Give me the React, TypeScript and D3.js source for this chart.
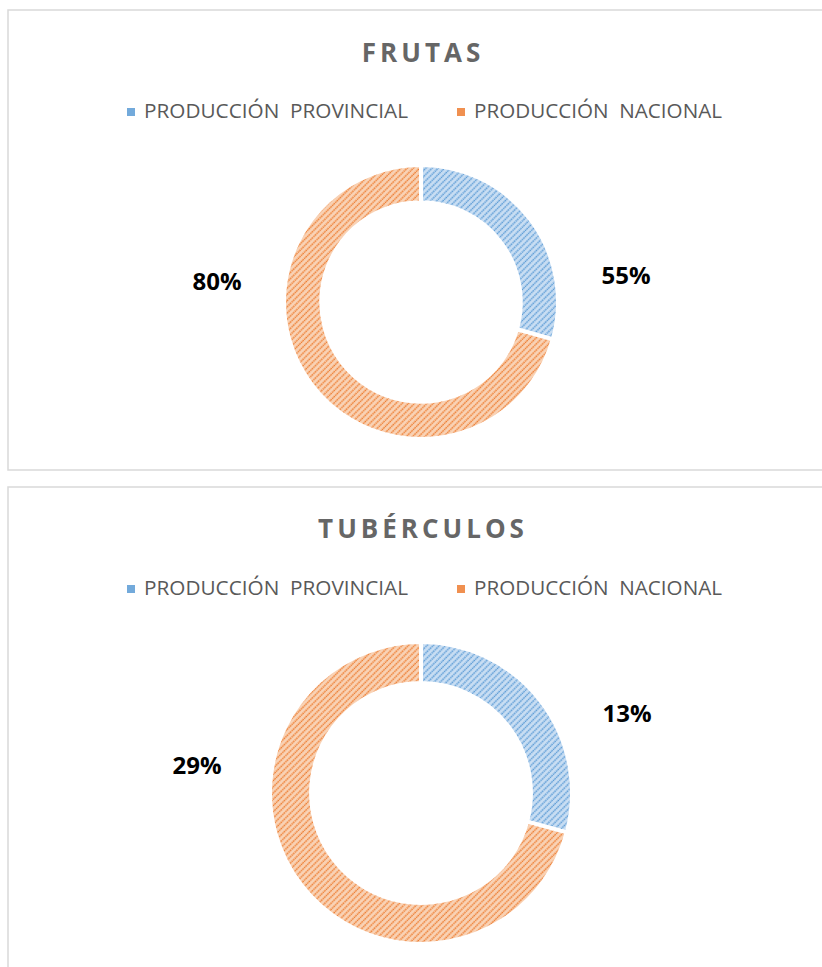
import React from "react";
import * as d3 from "d3";

const seriesNames = ["PRODUCCIÓN  PROVINCIAL", "PRODUCCIÓN  NACIONAL"];
const chartTitles = ["FRUTAS", "TUBÉRCULOS"];
// slice sizes as they appear in the picture (share of the ring)
const frutasSlices = [29.4, 70.6];
const tuberculosSlices = [29.2, 70.8];
// data labels shown on the chart
const frutasLabels = ["55%", "80%"];
const tuberculosLabels = ["13%", "29%"];

const W = 822;
const H = 967;

const colors = [
  { bg: "#c9def3", line: "#5b9bd5" },
  { bg: "#f9d3b6", line: "#ed7d31" },
];

type PanelProps = {
  top: number;
  height: number;
  title: string;
  titleBaseline: number;
  legendBaseline: number;
  cy: number;
  outerR: number;
  slices: number[];
  labels: string[];
  labelPos: { x: number; y: number }[];
};

function Panel(p: PanelProps) {
  const cx = 421;
  const pie = d3.pie<number>().sort(null).value((d) => d).startAngle(0).endAngle(2 * Math.PI);
  const arcs = pie(p.slices);
  const arc = d3.arc<d3.PieArcDatum<number>>().innerRadius(p.outerR * 0.728).outerRadius(p.outerR);
  const titleSpacing = 4;
  return (
    <g>
      <rect x={8} y={p.top} width={830} height={p.height} fill="#fff" stroke="#d9d9d9" strokeWidth={1.5} />
      <text
        x={cx + titleSpacing / 2}
        y={p.titleBaseline}
        textAnchor="middle"
        fontFamily="'Open Sans', sans-serif"
        fontWeight={700}
        fontSize={26}
        fill="#666666"
        style={{ letterSpacing: `${titleSpacing}px` }}
      >
        {p.title}
      </text>
      <rect x={127} y={p.legendBaseline - 10} width={8} height={8} fill={colors[0].line} opacity={0.85} />
      <text x={144} y={p.legendBaseline} fontFamily="'Open Sans', sans-serif" fontSize={19.5} fill="#595959" textLength={264} lengthAdjust="spacingAndGlyphs" style={{ whiteSpace: "pre" }}>
        {seriesNames[0]}
      </text>
      <rect x={457} y={p.legendBaseline - 10} width={8} height={8} fill={colors[1].line} opacity={0.85} />
      <text x={474} y={p.legendBaseline} fontFamily="'Open Sans', sans-serif" fontSize={19.5} fill="#595959" textLength={248} lengthAdjust="spacingAndGlyphs" style={{ whiteSpace: "pre" }}>
        {seriesNames[1]}
      </text>
      <g transform={`translate(${cx},${p.cy})`}>
        {arcs.map((a, i) => (
          <path key={i} d={arc(a) || ""} fill={`url(#pat${i})`} stroke="#fff" strokeWidth={4} />
        ))}
      </g>
      {p.labels.map((l, i) => (
        <text
          key={i}
          x={p.labelPos[i].x}
          y={p.labelPos[i].y}
          textAnchor="middle"
          fontFamily="'Open Sans', sans-serif"
          fontWeight={700}
          fontSize={24}
          fill="#000"
        >
          {l}
        </text>
      ))}
    </g>
  );
}

export default function App() {
  return (
    <svg width={W} height={H} style={{ position: "absolute", left: 0, top: 0, background: "#fff" }}>
      <defs>
        {colors.map((c, i) => (
          <pattern key={i} id={`pat${i}`} patternUnits="userSpaceOnUse" width={4.4} height={4.4} patternTransform="rotate(45)">
            <rect x={0} y={0} width={4.4} height={4.4} fill={c.bg} />
            <line x1={1.2} y1={0} x2={1.2} y2={4.4} stroke={c.line} strokeWidth={1.5} strokeDasharray="1.6 0.6" />
          </pattern>
        ))}
      </defs>
      <rect x={0} y={0} width={W} height={H} fill="#fff" />
      <Panel
        top={10}
        height={460}
        title={chartTitles[0]}
        titleBaseline={62}
        legendBaseline={118}
        cy={302}
        outerR={137}
        slices={frutasSlices}
        labels={frutasLabels}
        labelPos={[{ x: 626, y: 284 }, { x: 217, y: 290 }]}
      />
      <Panel
        top={487}
        height={500}
        title={chartTitles[1]}
        titleBaseline={538}
        legendBaseline={595}
        cy={793}
        outerR={151}
        slices={tuberculosSlices}
        labels={tuberculosLabels}
        labelPos={[{ x: 627, y: 722 }, { x: 197, y: 774 }]}
      />
    </svg>
  );
}
